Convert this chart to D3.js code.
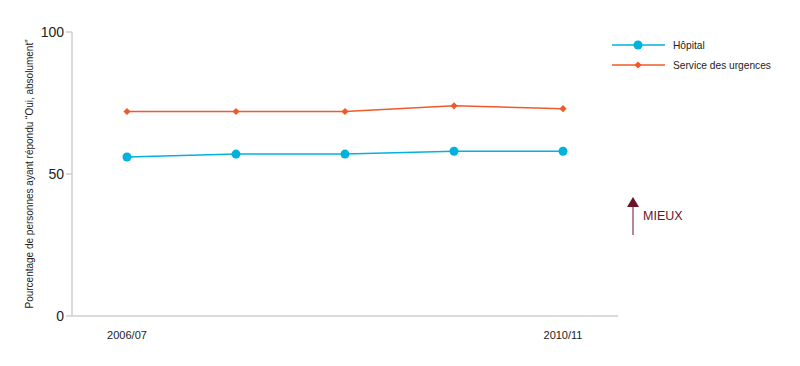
<!DOCTYPE html>
<html><head><meta charset="utf-8">
<script src="https://cdn.jsdelivr.net/npm/d3@7"></script>
<style>body{margin:0;background:#fff}svg{display:block;font-family:"Liberation Sans",Arial,sans-serif}</style>
</head><body><svg id="c" width="800" height="366"></svg>
<script>
const categories = ["2006/07","2007/08","2008/09","2009/10","2010/11"];
const hopital = [56, 57, 57, 58, 58];
const urgences = [72, 72, 72, 74, 73];
const yTicks = [0, 50, 100];
const xLabels = ["2006/07","2010/11"];
const seriesNames = ["Hôpital","Service des urgences"];

const svg = d3.select("#c");
const blue = "#00b2dd", orange = "#f05a2a", axisCol = "#cfcfcf";
const x = d3.scalePoint().domain(categories).range([127, 563]);
const y = d3.scaleLinear().domain([0, 100]).range([316, 32]);

// axes
svg.append("line").attr("x1",72).attr("x2",72).attr("y1",y(100)).attr("y2",y(0)).attr("stroke",axisCol).attr("stroke-width",1.5);
svg.append("line").attr("x1",72).attr("x2",618).attr("y1",y(0)).attr("y2",y(0)).attr("stroke",axisCol).attr("stroke-width",1.5);
yTicks.forEach(t=>{
  svg.append("line").attr("x1",66).attr("x2",72).attr("y1",y(t)).attr("y2",y(t)).attr("stroke",axisCol).attr("stroke-width",1.5);
  svg.append("text").attr("x",64).attr("y",y(t)).attr("dy","0.35em").attr("text-anchor","end")
    .attr("font-size",14).attr("fill","#222").text(t);
});
xLabels.forEach(l=>{
  svg.append("text").attr("x",x(l)).attr("y",339).attr("text-anchor","middle").attr("font-size",11).attr("fill","#222").text(l);
});
svg.append("text").attr("transform","translate(33,174) rotate(-90)").attr("text-anchor","middle")
  .attr("font-size",10).attr("fill","#222").text("Pourcentage de personnes ayant répondu \u201COui, absolument\u201D");

const line = d3.line().x((d,i)=>x(categories[i])).y(d=>y(d));
svg.append("path").datum(urgences).attr("d",line).attr("fill","none").attr("stroke",orange).attr("stroke-width",1.5);
svg.append("path").datum(hopital).attr("d",line).attr("fill","none").attr("stroke",blue).attr("stroke-width",1.5);
const diamond = d3.symbol().type(d3.symbolSquare).size(26);
svg.selectAll(".u").data(urgences).enter().append("path")
  .attr("transform",(d,i)=>`translate(${x(categories[i])},${y(d)}) rotate(45)`).attr("d",diamond).attr("fill",orange);
svg.selectAll(".h").data(hopital).enter().append("circle")
  .attr("cx",(d,i)=>x(categories[i])).attr("cy",d=>y(d)).attr("r",4.5).attr("fill",blue);

// legend
const lg = [{n:seriesNames[0],c:blue,t:"c",yy:45},{n:seriesNames[1],c:orange,t:"d",yy:65}];
lg.forEach(o=>{
  svg.append("line").attr("x1",612).attr("x2",665).attr("y1",o.yy).attr("y2",o.yy).attr("stroke",o.c).attr("stroke-width",1.5);
  if(o.t==="c") svg.append("circle").attr("cx",638).attr("cy",o.yy).attr("r",4.5).attr("fill",o.c);
  else svg.append("path").attr("transform",`translate(638,${o.yy}) rotate(45)`).attr("d",diamond).attr("fill",o.c);
  svg.append("text").attr("x",673).attr("y",o.yy).attr("dy","0.35em").attr("font-size",10.2).attr("fill","#222").text(o.n);
});

// MIEUX arrow
const mc = "#6b1328";
svg.append("line").attr("x1",633).attr("x2",633).attr("y1",235).attr("y2",205).attr("stroke",mc).attr("stroke-width",1);
svg.append("path").attr("d","M627,207 L633,197 L639,207 Z").attr("fill",mc);
svg.append("text").attr("x",643).attr("y",216).attr("dy","0.35em").attr("font-size",12.5).attr("fill",mc).text("MIEUX");
</script></body></html>
